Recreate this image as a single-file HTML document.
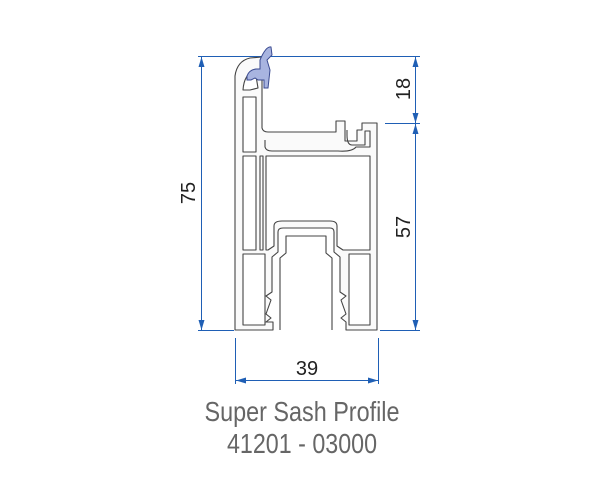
<!DOCTYPE html>
<html><head><meta charset="utf-8"><style>
html,body{margin:0;padding:0;background:#fff;}
svg{display:block;}
</style></head><body>
<svg width="600" height="500" viewBox="0 0 600 500" xmlns="http://www.w3.org/2000/svg">
<defs>
<marker id="a" markerWidth="10" markerHeight="6" refX="10" refY="3" orient="auto" markerUnits="userSpaceOnUse"><path d="M0,0 L10,3 L0,6 Z" fill="#1f5fb5"/></marker>
</defs>
<g stroke="#1f5fb5" stroke-width="1" fill="none">
<line x1="198" y1="56.5" x2="420" y2="56.5"/>
<line x1="198" y1="330.5" x2="234" y2="330.5"/>
<line x1="380" y1="330.5" x2="420" y2="330.5"/>
<line x1="385" y1="123.5" x2="420" y2="123.5"/>
<line x1="201.5" y1="190" x2="201.5" y2="57" marker-end="url(#a)"/>
<line x1="201.5" y1="190" x2="201.5" y2="330" marker-end="url(#a)"/>
<line x1="415.5" y1="90" x2="415.5" y2="57" marker-end="url(#a)"/>
<line x1="415.5" y1="90" x2="415.5" y2="123" marker-end="url(#a)"/>
<line x1="415.5" y1="225" x2="415.5" y2="124" marker-end="url(#a)"/>
<line x1="415.5" y1="225" x2="415.5" y2="330" marker-end="url(#a)"/>
<line x1="235.5" y1="338" x2="235.5" y2="384"/>
<line x1="378.5" y1="338" x2="378.5" y2="384"/>
<line x1="306" y1="380.5" x2="236" y2="380.5" marker-end="url(#a)"/>
<line x1="306" y1="380.5" x2="378" y2="380.5" marker-end="url(#a)"/>
</g>
<g stroke="#444" stroke-width="1.1" fill="#fafafa" stroke-linejoin="round">
<path d="M235,330 L235,76 Q237,61 250,58 L262,57 L262,128 Q263,132 268,132 L336,132 L336,121 L345,121 L345,141 L357,141 L357,130 L362,130 L362,123 L377,123 L377,330 L346,330 L346,322 L341,318 L346,314 L341,300 L346,296 L340,292 L340,257 L334,252 L334,232 Q334,228 330,228 L283,228 Q278,228 278,232 L278,252 L272,257 L272,292 L266,296 L271,300 L266,314 L271,318 L266,322 L273,322 L273,330 Z"/>
<path d="M280,330 L280,258 L286,253 L286,236 L326,236 L326,253 L332,258 L332,330" fill="#fff"/>
<rect x="243" y="97" width="13" height="55" fill="#fff"/>
<rect x="243" y="156" width="13" height="94" fill="#fff"/>
<rect x="243" y="254" width="22" height="71" fill="#fff"/>
<rect x="260" y="156" width="3" height="94" fill="#fff"/>
<path d="M266,156 L370,156 L370,250 L343,250 L337,246 L337,226 Q337,221 330,221 L282,221 Q274,221 274,226 L274,246 L268,250 L266,250 Z" fill="#fff"/>
<rect x="349" y="254" width="21" height="71" fill="#fff"/>
<path d="M265,140 L265,147 Q266,151 272,151 L338,151 Q352,152 356,147 L370,147 L370,131 L365,131 L365,145 L352,145 Q347,145 347,135 L347,130" fill="none"/>
<path d="M243,90 Q244,74 255,70 L258,88 L250,90 Z" fill="#fff"/>
</g>
<path d="M247,76 Q249,70 256,69 L260,69 L260,60 Q266,46 271,47 L272,55 L267,60 L270,70 L268,88 L264,88 L264,80 L258,80 L255,78 L251,80 L247,80 Z" fill="#a8b4e0" stroke="#3a4a90" stroke-width="1"/>
<g font-family="'Liberation Sans Narrow','Liberation Sans',sans-serif" fill="#222" font-size="20">
<text x="307" y="375" text-anchor="middle">39</text>
<text transform="translate(195,193) rotate(-90)" text-anchor="middle">75</text>
<text transform="translate(410,89) rotate(-90)" text-anchor="middle">18</text>
<text transform="translate(410,227) rotate(-90)" text-anchor="middle">57</text>
</g>
<g font-family="'Liberation Sans Narrow','Liberation Sans',sans-serif" fill="#666" font-size="28" text-anchor="middle">
<text x="302" y="421" textLength="195" lengthAdjust="spacingAndGlyphs">Super Sash Profile</text>
<text x="302" y="453" textLength="150" lengthAdjust="spacingAndGlyphs">41201 - 03000</text>
</g>
</svg>
</body></html>
